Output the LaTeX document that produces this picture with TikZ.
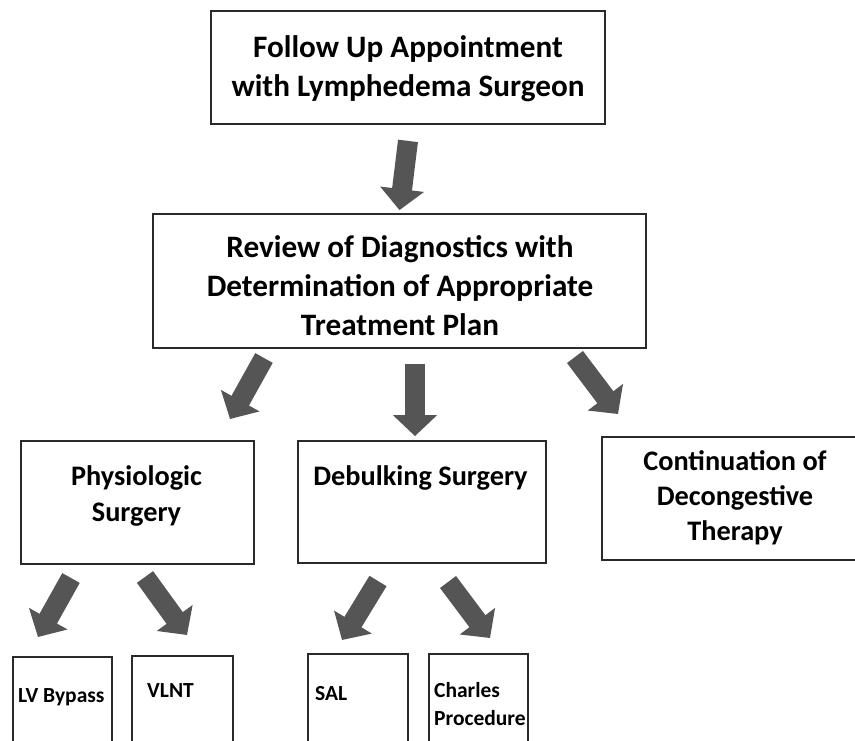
\documentclass[tikz,border=0pt]{standalone}
\usepackage{fontspec}
\setmainfont{Carlito}
\usetikzlibrary{arrows.meta}
\definecolor{arrowgray}{HTML}{555555}
\definecolor{boxline}{HTML}{2A2A2A}
\begin{document}
\begin{tikzpicture}[x=1pt,y=-1pt,
  box/.style={draw=boxline, line width=1.8pt, inner sep=0pt},
  txt/.style={inner sep=0pt, align=center, anchor=base},
  ltxt/.style={inner sep=0pt, align=left, anchor=base west},
  blockarrow/.style={draw=arrowgray, line width=20pt, -{Triangle[length=21pt,width=43pt,fill=arrowgray]}}]
\useasboundingbox (0,0) rectangle (855,741);
\fill[white] (0,0) rectangle (855,741);
\clip (0,0) rectangle (855,741);
% boxes
\node[box, minimum width=394pt, minimum height=113pt] (top) at (408,67.5) {};
\node[box, minimum width=493pt, minimum height=134pt] (mid) at (399.5,281) {};
\node[box, minimum width=233pt, minimum height=123pt] (phys) at (137.5,502.5) {};
\node[box, minimum width=248pt, minimum height=122pt] (deb) at (422,502) {};
\node[box, minimum width=260pt, minimum height=123pt] (cont) at (732,498.5) {};
\node[box, minimum width=99pt, minimum height=103pt] (lv) at (62.5,708.5) {};
\node[box, minimum width=101pt, minimum height=104pt] (vlnt) at (182.5,708) {};
\node[box, minimum width=100pt, minimum height=106pt] (sal) at (358,707) {};
\node[box, minimum width=99pt, minimum height=106pt] (charles) at (478.5,707) {};
% texts (anchor = baseline of last line)
\node[txt, font=\bfseries\fontsize{31.2}{39}\selectfont] (toptxt) at (408,97) {Follow Up Appointment\\with Lymphedema Surgeon};
\node[txt, font=\bfseries\fontsize{31.2}{39}\selectfont] (midtxt) at (400,335) {Review of Diagnostics with\\Determination of Appropriate\\Treatment Plan};
\node[txt, font=\bfseries\fontsize{28.3}{36}\selectfont] (phystxt) at (136.5,521) {Physiologic\\Surgery};
\node[txt, font=\bfseries\fontsize{28.3}{36}\selectfont] (debtxt) at (420.5,485) {Debulking Surgery};
\node[txt, font=\bfseries\fontsize{28.3}{35}\selectfont] (conttxt) at (735,540) {Continuation of\\Decongestive\\Therapy};
\node[ltxt, font=\bfseries\fontsize{21.5}{27}\selectfont] (lvtxt) at (18,702) {LV Bypass};
\node[ltxt, font=\bfseries\fontsize{21.5}{27}\selectfont] (vlnttxt) at (147,697) {VLNT};
\node[ltxt, font=\bfseries\fontsize{21.5}{27}\selectfont] (saltxt) at (315,700) {SAL};
\node[ltxt, font=\bfseries\fontsize{21.5}{28}\selectfont] (chtxt) at (434,725) {Charles\\Procedure};
% arrow end points
\coordinate (a1s) at (264,358);
\coordinate (a1e) at (230,419);
\coordinate (a3s) at (575,357);
\coordinate (a3e) at (618,414);
\coordinate (b1s) at (71,578);
\coordinate (b1e) at (38,637);
\coordinate (b2s) at (145,577);
\coordinate (b2e) at (187,635);
\coordinate (b3s) at (378,581);
\coordinate (b3e) at (342,640);
\coordinate (b4s) at (448,582);
\coordinate (b4e) at (490,638);
% arrows
\draw[blockarrow] ([yshift=-16pt]top.south) -- ([yshift=3pt]mid.north);
\draw[blockarrow] ([xshift=15.5pt,yshift=-15pt]mid.south) -- ([xshift=-7pt,yshift=4pt]deb.north);
\draw[blockarrow] (a1s) -- (a1e);
\draw[blockarrow] (a3s) -- (a3e);
\draw[blockarrow] (b1s) -- (b1e);
\draw[blockarrow] (b2s) -- (b2e);
\draw[blockarrow] (b3s) -- (b3e);
\draw[blockarrow] (b4s) -- (b4e);
\end{tikzpicture}
\end{document}
